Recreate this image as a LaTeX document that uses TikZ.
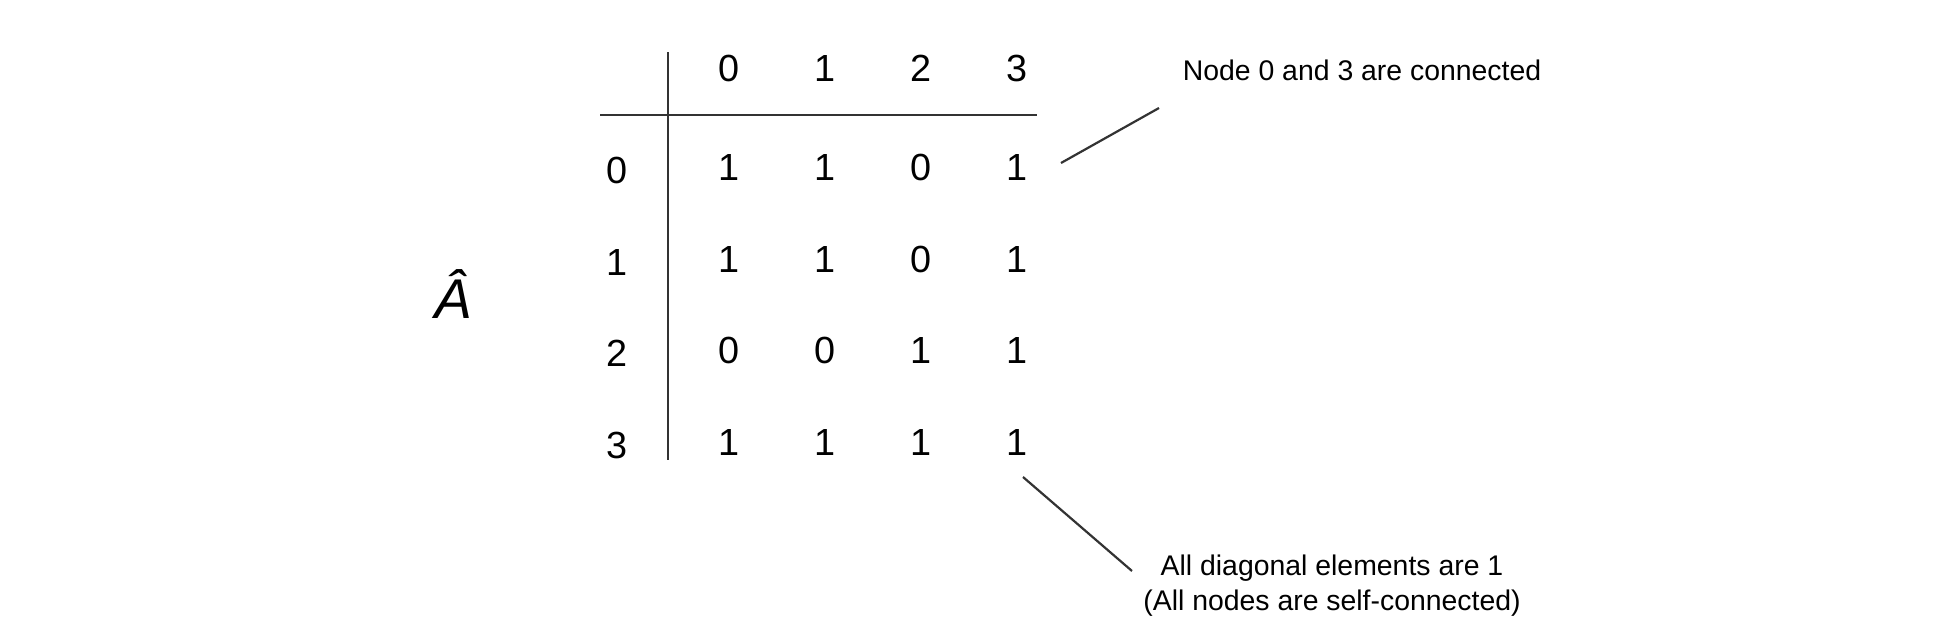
\documentclass[tikz,border=0pt]{standalone}
\usepackage{fontspec}
\setmainfont{Liberation Sans}
\definecolor{RuleGray}{HTML}{333333}

\begin{document}
\begin{tikzpicture}[x=0.5pt,y=-0.5pt,
  entry/.style={inner sep=0pt,font=\fontsize{18.9}{22}\selectfont},
  note/.style={inner sep=0pt,align=center,font=\fontsize{14.2}{17.5}\selectfont},
  rule/.style={draw=RuleGray,line width=1.1pt}]
\useasboundingbox (0,0) rectangle (1942,632);
\node[inner sep=0pt,anchor=base,font=\fontsize{28}{30}\selectfont\itshape] (AHat) at (453,318) {Â};
\node[entry] (Col0) at (729,68) {0};
\node[entry] (Col1) at (825,68) {1};
\node[entry] (Col2) at (921,68) {2};
\node[entry] (Col3) at (1017,68) {3};
\node[entry] (Row0) at (617,170) {0};
\node[entry] (Row1) at (617,262) {1};
\node[entry] (Row2) at (617,353) {2};
\node[entry] (Row3) at (617,445) {3};
\node[entry] (Cell00) at (729,167) {1};
\node[entry] (Cell01) at (825,167) {1};
\node[entry] (Cell02) at (921,167) {0};
\node[entry] (Cell03) at (1017,167) {1};
\node[entry] (Cell10) at (729,259) {1};
\node[entry] (Cell11) at (825,259) {1};
\node[entry] (Cell12) at (921,259) {0};
\node[entry] (Cell13) at (1017,259) {1};
\node[entry] (Cell20) at (729,350) {0};
\node[entry] (Cell21) at (825,350) {0};
\node[entry] (Cell22) at (921,350) {1};
\node[entry] (Cell23) at (1017,350) {1};
\node[entry] (Cell30) at (729,442) {1};
\node[entry] (Cell31) at (825,442) {1};
\node[entry] (Cell32) at (921,442) {1};
\node[entry] (Cell33) at (1017,442) {1};
\node[note] (NoteConnected) at (1362,70) {Node 0 and 3 are connected};
\node[note] (NoteDiagonal) at (1332,586) {All diagonal elements are 1\\(All nodes are self-connected)};
\coordinate (RuleTop) at (668,52);
\coordinate (RuleBottom) at (668,460);
\coordinate (RuleLeft) at (600,115);
\coordinate (RuleRight) at (1037,115);
\coordinate (PointerConnected) at (1061,163);
\coordinate (TailConnected) at (1159,108);
\coordinate (PointerDiagonal) at (1023,477);
\coordinate (TailDiagonal) at (1132,571);
\draw[rule] (RuleTop) -- (RuleBottom);
\draw[rule] (RuleLeft) -- (RuleRight);
\draw[rule] (PointerConnected) -- (TailConnected);
\draw[rule] (PointerDiagonal) -- (TailDiagonal);
\end{tikzpicture}
\end{document}
